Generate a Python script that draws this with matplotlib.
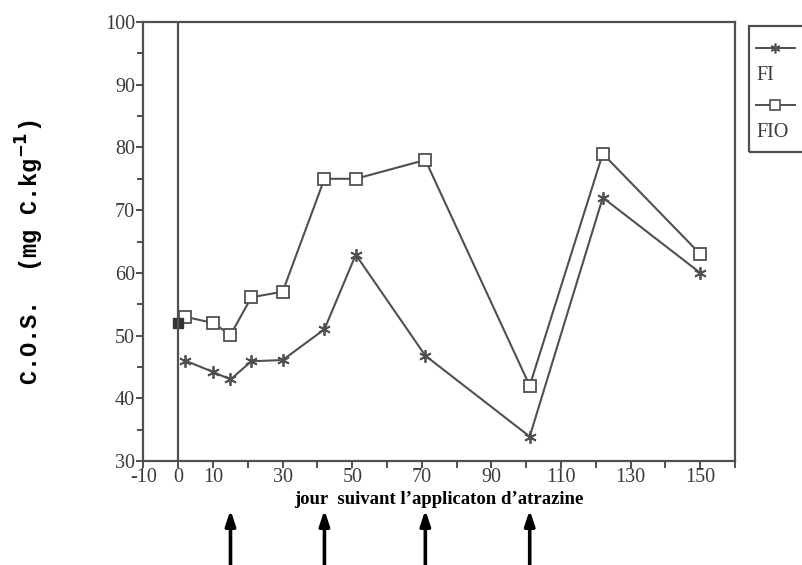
import matplotlib
matplotlib.use("Agg")
import matplotlib.pyplot as plt
from matplotlib.lines import Line2D
from matplotlib.patches import Rectangle
from matplotlib.transforms import blended_transform_factory

# Sampling days (days after atrazine application)
days = [2, 10, 15, 21, 30, 42, 51, 71, 101, 122, 150]

# Soil organic carbon, mg C/kg
fi_values = [46.0, 44.2, 43.0, 45.9, 46.1, 51.0, 62.9, 46.8, 33.9, 72.0, 60.0]
fio_values = [53.0, 52.0, 50.1, 56.1, 57.0, 75.0, 75.0, 78.0, 42.0, 79.0, 63.0]

# Common starting value before application
start_day = 0
start_value = 52.0

# Atrazine application days
application_days = [15, 42, 71, 101]

series_names = ["FI", "FIO"]
x_tick_values = list(range(-10, 161, 10))
x_tick_labels = ["-10", "0", "10", "", "30", "", "50", "", "70", "", "90", "",
                 "110", "", "130", "", "150", ""]
y_tick_values = list(range(30, 101, 10))

line_col = "#505050"
text_col = "#3a3a3a"
serif = ["Liberation Serif", "DejaVu Serif"]

fig = plt.figure(figsize=(8.03, 5.65), dpi=100)
ax = fig.add_axes([143.5 / 803, 104 / 565, (735 - 143.5) / 803, 439 / 565])

ax.plot(days, fi_values, color=line_col, lw=1.5, marker=(6, 2, 0),
        markersize=9, markeredgewidth=1.3, markeredgecolor=line_col)
ax.plot(days, fio_values, color=line_col, lw=1.5, marker="s",
        markersize=8, markerfacecolor="white", markeredgewidth=1.3,
        markeredgecolor=line_col)
ax.plot([start_day], [start_value], marker="s", markersize=7,
        color="#333333", linestyle="none")

ax.axvline(0, color=line_col, lw=1.6)

ax.set_xlim(-10, 160)
ax.set_ylim(30, 100)
ax.set_xticks(x_tick_values)
ax.set_xticklabels(x_tick_labels)
ax.set_yticks(y_tick_values)
ax.set_yticks(list(range(35, 100, 10)), minor=True)

for lab in ax.get_xticklabels() + ax.get_yticklabels():
    lab.set_fontfamily(serif)
    lab.set_fontsize(14.5)
    lab.set_color(text_col)

ax.tick_params(axis="both", which="both", direction="out", color=line_col,
               width=1.4, length=5, pad=1)
ax.tick_params(axis="y", which="minor", length=4)
ax.tick_params(axis="x", pad=0)

for sp in ax.spines.values():
    sp.set_color(line_col)
    sp.set_linewidth(1.6)

# Axis titles
fig.text(439 / 803, 1 - 500 / 565, "jour  suivant l\u2019applicaton d\u2019atrazine",
         ha="center", va="center", fontsize=13.5, fontweight="bold",
         family=serif, color="black")
fig.text(30 / 803, 1 - 252 / 565, "C.O.S.  (mg C.kg$^{\\mathbf{-1}}$)",
         rotation=90, ha="center", va="center", fontsize=17,
         fontweight="bold", family=["Liberation Mono", "DejaVu Sans Mono"],
         color="black")

# Arrows marking each application
trans = blended_transform_factory(ax.transData, fig.transFigure)
for d in application_days:
    ax.annotate("", xy=(d, 1 - 510 / 565), xycoords=trans,
                xytext=(d, -0.01), textcoords=trans,
                arrowprops=dict(arrowstyle="-|>,head_length=0.9,head_width=0.3",
                                lw=2.6, color="black", shrinkA=0, shrinkB=0),
                annotation_clip=False)

# Legend box on the right
fig.patches.append(Rectangle((749 / 803, 1 - 152 / 565), 0.2, (152 - 26) / 565,
                             transform=fig.transFigure, fill=False,
                             edgecolor=line_col, lw=1.6))
legend_rows = [(47.7, 75, (6, 2, 0)), (105, 132, "s")]
for name, (y_mark, y_text, mk) in zip(series_names, legend_rows):
    yf = 1 - y_mark / 565
    fig.add_artist(Line2D([756 / 803, 795 / 803], [yf, yf], color=line_col,
                          lw=1.4, transform=fig.transFigure))
    fig.add_artist(Line2D([775.5 / 803], [yf], marker=mk, markersize=7,
                          markerfacecolor="white" if mk == "s" else line_col,
                          markeredgecolor=line_col, markeredgewidth=1.2,
                          transform=fig.transFigure))
    fig.text(756 / 803, 1 - y_text / 565, name, ha="left", va="center",
             fontsize=14.5, family=serif, color=text_col)

fig.savefig("out.png", dpi=100)
